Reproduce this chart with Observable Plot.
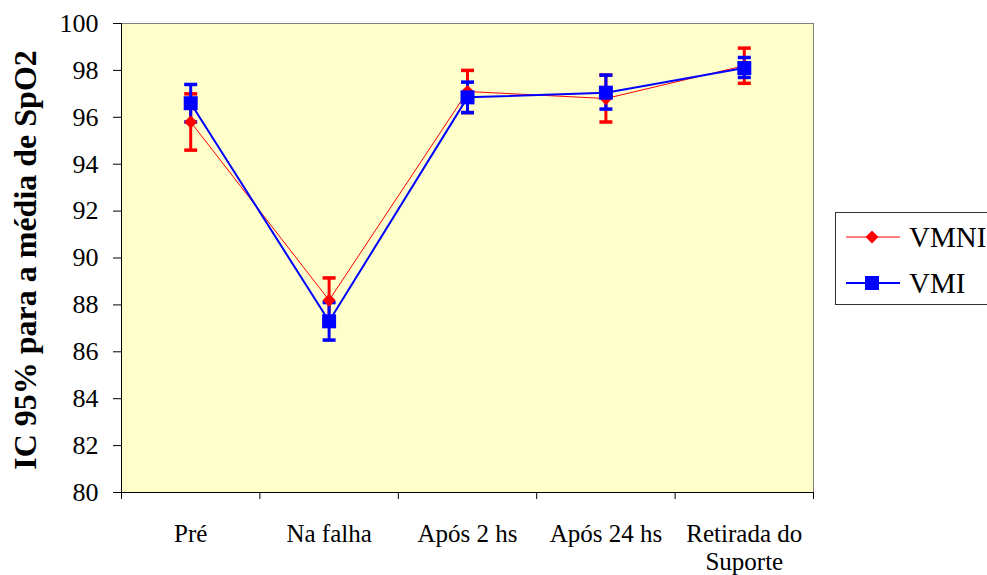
<!DOCTYPE html>
<html>
<head>
<meta charset="utf-8">
<script src="https://cdn.jsdelivr.net/npm/d3@7"></script>
<script src="https://cdn.jsdelivr.net/npm/@observablehq/plot@0.6"></script>
<style>
  html, body { margin: 0; padding: 0; background: #ffffff; overflow: hidden; }
  #wrap { position: relative; width: 987px; height: 575px; }
  #legend { position: absolute; left: 835px; top: 212px; }
</style>
</head>
<body>
<div id="wrap"><div id="chart"></div><div id="legend"></div></div>
<script>
const categories = ["Pré", "Na falha", "Após 2 hs", "Após 24 hs", "Retirada do\nSuporte"];
const seriesNames = ["VMNI", "VMI"];
const vmniMean = [95.8, 88.2, 97.1, 96.8, 98.2];
const vmniLow  = [94.6, 87.25, 96.2, 95.8, 97.45];
const vmniHigh = [97.0, 89.15, 98.0, 97.8, 98.95];
const vmiMean  = [96.6, 87.3, 96.85, 97.05, 98.1];
const vmiLow   = [95.8, 86.5, 96.2, 96.35, 97.7];
const vmiHigh  = [97.4, 88.1, 97.5, 97.8, 98.55];
const yTicks = [80, 82, 84, 86, 88, 90, 92, 94, 96, 98, 100];
const yLabel = "IC 95% para a média de SpO2";

const RED = "#FF0000", BLUE = "#0000FF";
const FONT = "'Liberation Serif', 'Times New Roman', serif";

const rows = (mean, lo, hi, name) => categories.map((c, i) => ({cat: c, idx: i + 0.5, mean: mean[i], lo: lo[i], hi: hi[i], series: name}));
const vmni = rows(vmniMean, vmniLow, vmniHigh, seriesNames[0]);
const vmi = rows(vmiMean, vmiLow, vmiHigh, seriesNames[1]);
const edges = d3.range(categories.length + 1);

const capSymbol = {
  draw(ctx, size) { const w = Math.sqrt(size); ctx.moveTo(-w / 2, 0); ctx.lineTo(w / 2, 0); }
};
const capR = 13 / Math.sqrt(Math.PI);

function errorBars(data, color) {
  return [
    Plot.ruleX(data, {x: "idx", y1: "lo", y2: "hi", stroke: color, strokeWidth: 3}),
    Plot.dot(data, {x: "idx", y: "lo", symbol: capSymbol, r: capR, stroke: color, strokeWidth: 3.5, fill: "none"}),
    Plot.dot(data, {x: "idx", y: "hi", symbol: capSymbol, r: capR, stroke: color, strokeWidth: 3.5, fill: "none"})
  ];
}

const chart = Plot.plot({
  width: 987,
  height: 575,
  marginLeft: 121,
  marginRight: 174,
  marginTop: 23,
  marginBottom: 83,
  style: {fontFamily: FONT, color: "#000", background: "transparent"},
  x: {type: "linear", domain: [0, categories.length]},
  y: {domain: [80, 100]},
  marks: [
    Plot.frame({fill: "#FFFFCC", stroke: "#808080"}),
    Plot.ruleX([0], {stroke: "#000", strokeWidth: 1}),
    Plot.ruleY([80], {stroke: "#000", strokeWidth: 1}),
    Plot.axisY({ticks: yTicks, tickSize: 8, tickPadding: 15, fontSize: 26, label: null, tickFormat: d => String(d), stroke: "#000"}),
    Plot.axisX({ticks: edges, tickSize: 7, tickFormat: () => "", label: null, stroke: "#000"}),
    Plot.text(categories, {x: (d, i) => i + 0.5, frameAnchor: "bottom", dy: 30, lineAnchor: "top", fontSize: 25, lineHeight: 1.1, fill: "#000"}),
    Plot.text([yLabel], {frameAnchor: "left", textAnchor: "middle", dx: -96, dy: 2, rotate: -90, fontSize: 32, fontWeight: "bold", fill: "#000"}),
    Plot.line(vmni, {x: "idx", y: "mean", stroke: RED, strokeWidth: 1}),
    Plot.line(vmi, {x: "idx", y: "mean", stroke: BLUE, strokeWidth: 2}),
    ...errorBars(vmni, RED),
    ...errorBars(vmi, BLUE),
    Plot.dot(vmni, {x: "idx", y: "mean", symbol: "diamond2", r: 5.9, fill: RED, stroke: "none"}),
    Plot.dot(vmi, {x: "idx", y: "mean", symbol: "square", r: 7.9, fill: BLUE, stroke: "none"})
  ]
});
document.getElementById("chart").appendChild(chart);

// Legend
const legend = d3.select("#legend").append("svg")
  .attr("width", 160).attr("height", 94)
  .style("font-family", FONT).style("overflow", "visible");
legend.append("rect").attr("x", 0.5).attr("y", 0.5).attr("width", 170).attr("height", 92)
  .attr("fill", "#fff").attr("stroke", "#333");
const items = [
  {name: seriesNames[0], color: RED, width: 1, symbol: d3.symbolDiamond2, size: Math.pow(6.5 / 0.62625, 2)},
  {name: seriesNames[1], color: BLUE, width: 2, symbol: d3.symbolSquare, size: 196}
];
items.forEach((it, k) => {
  const y = 25 + k * 46;
  const g = legend.append("g");
  g.append("line").attr("x1", 11).attr("x2", 65).attr("y1", y).attr("y2", y)
    .attr("stroke", it.color).attr("stroke-width", it.width);
  g.append("path").attr("d", d3.symbol(it.symbol, it.size)())
    .attr("transform", `translate(37,${y})`).attr("fill", it.color);
  g.append("text").attr("x", 74).attr("y", y).attr("dy", "0.34em")
    .attr("font-size", 29).attr("fill", "#000").text(it.name);
});
</script>
</body>
</html>
